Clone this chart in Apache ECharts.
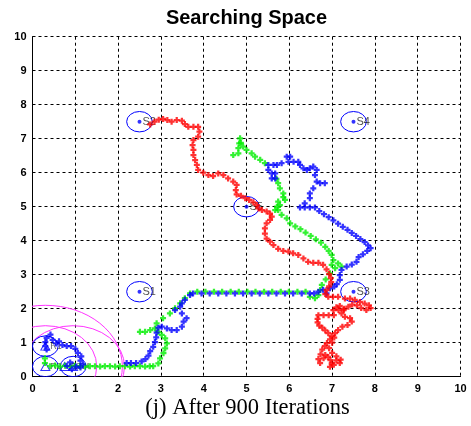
<!DOCTYPE html>
<html><head><meta charset="utf-8">
<script src="https://cdn.jsdelivr.net/npm/echarts@6/dist/echarts.min.js"></script>
<style>html,body{margin:0;padding:0;background:#fff}#c{width:471px;height:426px}</style>
</head><body><div id="c"></div>
<script>
const titleText = 'Searching Space';
const xLabelText = '(j) After 900 Iterations';
const axisTicks = [0,1,2,3,4,5,6,7,8,9,10];

const stations = [['S1',2.5,2.5],['S2',2.5,7.5],['S3',7.5,2.5],['S4',7.5,7.5],['S5',5,5]];
const robots = [['R1',0.3,0.9],['R2',0.3,0.3],['R3',0.75,0.3],['R4',0.95,0.3]];
const robotZones = [[0.3,0.9],[0.3,0.3],[0.95,0.3]];
const smallRadius = 0.3;
const rangeCircles = [[0.3,0.3,1.2],[0.3,0.3,1.8],[0.95,0.3,1.2]];

const redPath = [[2.75,7.42],[2.85,7.5],[2.95,7.56],[3.05,7.58],[3.15,7.55],[3.25,7.5],[3.37,7.55],[3.49,7.53],[3.56,7.43],[3.64,7.35],[3.76,7.35],[3.87,7.35],[3.9,7.21],[3.87,7.06],[3.76,6.96],[3.74,6.81],[3.76,6.67],[3.76,6.52],[3.8,6.37],[3.84,6.23],[3.87,6.08],[3.99,6.0],[4.11,5.93],[4.22,5.9],[4.34,5.98],[4.46,5.93],[4.57,5.83],[4.69,5.74],[4.77,5.64],[4.75,5.49],[4.77,5.36],[4.87,5.32],[4.97,5.25],[5.06,5.2],[5.16,5.13],[5.24,5.05],[5.28,4.95],[5.36,4.9],[5.47,4.86],[5.55,4.8],[5.59,4.71],[5.55,4.61],[5.47,4.51],[5.43,4.36],[5.43,4.21],[5.47,4.06],[5.55,3.97],[5.63,3.87],[5.74,3.76],[5.86,3.7],[5.98,3.68],[6.09,3.63],[6.21,3.58],[6.33,3.48],[6.44,3.38],[6.56,3.35],[6.68,3.35],[6.79,3.29],[6.87,3.16],[6.93,3.02],[6.97,2.9],[6.98,2.78],[6.93,2.66],[6.87,2.55],[6.84,2.43],[6.91,2.35],[7.02,2.35],[7.14,2.35],[7.3,2.3],[7.42,2.3],[7.53,2.26],[7.65,2.2],[7.76,2.15],[7.86,2.1],[7.9,2.02],[7.8,1.96],[7.68,2.02],[7.58,2.1],[7.47,2.12],[7.38,2.06],[7.28,2.0],[7.18,2.08],[7.1,2.04],[7.03,1.96],[7.15,1.96],[7.27,1.96],[7.22,1.86],[7.3,1.76],[7.42,1.72],[7.46,1.62],[7.36,1.52],[7.24,1.47],[7.14,1.37],[7.07,1.28],[6.99,1.2],[6.68,1.81],[6.8,1.81],[6.92,1.81],[7.04,1.81],[6.66,1.7],[6.66,1.6],[6.7,1.5],[6.77,1.44],[6.84,1.36],[6.91,1.28],[6.95,1.1],[6.88,0.99],[6.83,0.9],[6.77,0.8],[6.73,0.66],[6.68,0.52],[6.72,0.4],[6.8,0.54],[6.84,0.64],[6.91,0.58],[6.96,0.49],[6.99,0.39],[6.95,0.29],[7.04,0.35],[7.1,0.48],[7.18,0.4],[7.2,0.5],[7.1,0.6],[7.0,0.7],[6.93,0.84],[7.0,1.0],[7.05,1.15]];

const bluePath = [[0.42,1.24],[0.33,1.14],[0.3,1.02],[0.3,0.9],[0.33,0.8],[0.47,1.08],[0.55,0.98],[0.62,1.04],[0.7,0.93],[0.8,0.9],[0.9,0.9],[1.0,0.82],[1.06,0.7],[1.14,0.6],[1.12,0.47],[1.18,0.36],[1.12,0.27],[0.88,0.42],[0.8,0.32],[0.92,0.22],[1.02,0.3],[2.2,0.4],[2.3,0.4],[2.42,0.4],[2.55,0.45],[2.64,0.52],[2.71,0.62],[2.75,0.75],[2.82,0.88],[2.86,1.02],[2.89,1.16],[2.9,1.3],[2.94,1.44],[3.02,1.47],[3.14,1.42],[3.25,1.37],[3.37,1.37],[3.49,1.47],[3.53,1.62],[3.6,1.72],[3.49,1.86],[3.33,1.96],[3.45,2.06],[3.49,2.16],[3.56,2.26],[3.68,2.4],[3.75,2.45],[3.95,2.45],[4.14,2.45],[4.34,2.45],[4.53,2.45],[4.73,2.45],[4.92,2.45],[5.12,2.45],[5.31,2.45],[5.51,2.45],[5.7,2.45],[5.9,2.45],[6.09,2.45],[6.29,2.45],[6.48,2.45],[6.58,2.45],[6.68,2.5],[6.79,2.56],[6.87,2.45],[6.95,2.6],[7.05,2.65],[7.11,2.72],[7.18,2.85],[7.18,2.99],[7.22,3.14],[7.34,3.24],[7.46,3.3],[7.57,3.38],[7.62,3.52],[7.72,3.6],[7.82,3.7],[7.9,3.78],[7.84,3.86],[7.76,3.96],[7.66,4.05],[7.56,4.14],[7.46,4.23],[7.36,4.32],[7.25,4.41],[7.14,4.5],[7.03,4.6],[6.92,4.69],[6.81,4.78],[6.7,4.87],[6.6,4.98],[6.48,4.98],[6.36,4.98],[6.25,4.98],[6.36,5.1],[6.48,5.25],[6.48,5.39],[6.56,5.54],[6.64,5.74],[6.72,5.69],[6.83,5.69],[6.6,5.93],[6.64,6.08],[6.56,6.18],[6.48,6.13],[6.41,6.08],[6.33,6.13],[6.25,6.23],[6.21,6.32],[6.1,6.32],[5.98,6.32],[6.02,6.47],[5.94,6.47],[5.82,6.28],[5.71,6.23],[5.63,6.23],[5.51,6.23],[5.51,6.08],[5.59,5.98],[5.67,5.98],[5.67,5.83],[5.59,5.83]];

const greenPath = [[0.29,0.54],[0.29,0.4],[0.41,0.31],[0.53,0.33],[0.64,0.3],[0.76,0.32],[0.88,0.3],[0.99,0.32],[1.11,0.31],[1.23,0.3],[1.34,0.31],[1.46,0.31],[1.58,0.3],[1.69,0.31],[1.81,0.31],[1.93,0.3],[2.04,0.31],[2.16,0.31],[2.28,0.3],[2.39,0.31],[2.51,0.31],[2.63,0.3],[2.74,0.31],[2.82,0.31],[2.94,0.39],[2.98,0.54],[3.06,0.69],[3.1,0.83],[3.14,0.98],[3.1,1.13],[3.02,1.23],[2.94,1.32],[2.86,1.42],[2.75,1.37],[2.63,1.32],[2.51,1.32],[2.9,1.57],[3.05,1.72],[3.21,1.86],[3.33,2.01],[3.45,2.16],[3.56,2.31],[3.68,2.45],[3.85,2.5],[4.04,2.5],[4.24,2.5],[4.43,2.5],[4.63,2.5],[4.82,2.5],[5.02,2.5],[5.21,2.5],[5.41,2.5],[5.6,2.5],[5.8,2.5],[5.99,2.5],[6.19,2.5],[6.38,2.5],[6.48,2.35],[6.6,2.31],[6.68,2.4],[6.72,2.55],[6.76,2.7],[6.85,2.86],[6.95,3.04],[7.07,3.19],[7.14,3.33],[7.22,3.24],[6.99,3.29],[7.03,3.43],[6.99,3.58],[6.92,3.7],[6.84,3.82],[6.74,3.94],[6.62,4.04],[6.5,4.14],[6.38,4.24],[6.26,4.34],[6.14,4.42],[6.02,4.51],[5.94,4.66],[5.82,4.76],[5.74,4.9],[5.67,4.9],[5.71,5.0],[5.78,5.05],[5.74,5.15],[5.86,5.28],[5.9,5.2],[5.86,5.39],[5.78,5.54],[5.74,5.69],[5.7,5.82],[5.43,6.28],[5.32,6.38],[5.2,6.47],[5.12,6.57],[5.0,6.67],[4.92,6.77],[4.87,6.88],[4.85,7.01],[4.83,6.86],[4.81,6.72],[4.81,6.57],[4.69,6.52]];

const plusSymbol = 'path://M2.5,0H5.5V2.5H8V5.5H5.5V8H2.5V5.5H0V2.5H2.5Z';

function ellipseItem(color, lw) {
  return function (params, api) {
    const c = api.coord([api.value(0), api.value(1)]);
    const s = api.size([api.value(2), api.value(2)]);
    const rx = s[0], ry = s[1];
    return {
      type: 'path',
      shape: {
        pathData: 'M' + (c[0] - rx) + ' ' + c[1] + ' A' + rx + ' ' + ry + ' 0 1 0 ' + (c[0] + rx) + ' ' + c[1] +
                  ' A' + rx + ' ' + ry + ' 0 1 0 ' + (c[0] - rx) + ' ' + c[1] + ' Z'
      },
      style: { fill: 'none', stroke: color, lineWidth: lw }
    };
  };
}

const chart = echarts.init(document.getElementById('c'), null, { renderer: 'canvas' });
const axisCommon = {
  type: 'value', min: axisTicks[0], max: axisTicks[axisTicks.length - 1], interval: 1,
  axisLine: { show: true, lineStyle: { color: '#000', width: 1 } },
  axisTick: { show: false },
  splitLine: { show: true, lineStyle: { color: '#000', type: [3, 3], width: 1 } },
  axisLabel: { color: '#000', fontFamily: 'Liberation Sans, Arial, sans-serif', fontWeight: 'bold', fontSize: 11 }
};
chart.setOption({
  animation: false,
  backgroundColor: '#fff',
  grid: { left: 32.5, right: 10.5, top: 36.7, bottom: 49.3 },
  xAxis: Object.assign({}, axisCommon, { axisLabel: Object.assign({}, axisCommon.axisLabel, { margin: 7 }) }),
  yAxis: Object.assign({}, axisCommon, { axisLabel: Object.assign({}, axisCommon.axisLabel, { margin: 6 }) }),
  graphic: [
    { type: 'text', style: { text: titleText, x: 246.5, y: 18, textAlign: 'center', textVerticalAlign: 'middle', font: 'bold 20px "Liberation Sans", Arial, sans-serif', fill: '#000' } },
    { type: 'text', style: { text: xLabelText, x: 247.5, y: 408, textAlign: 'center', textVerticalAlign: 'middle', font: '22.5px "Liberation Serif", "Times New Roman", serif', fill: '#000' } }
  ],
  series: [
    { type: 'custom', name: 'range', clip: true, z: 1, renderItem: ellipseItem('#ff33ff', 1),
      data: rangeCircles },
    { type: 'custom', name: 'zones', clip: true, z: 1, renderItem: ellipseItem('#0000ff', 1),
      data: stations.map(s => [s[1], s[2], smallRadius]).concat(robotZones.map(r => [r[0], r[1], smallRadius])) },
    { type: 'scatter', name: 'stations', z: 2, symbol: 'circle', symbolSize: 4,
      itemStyle: { color: '#0000ff' },
      label: { show: true, position: 'right', distance: 1, formatter: p => p.data[2], color: '#222',
        fontFamily: 'Liberation Sans, Arial, sans-serif', fontSize: 11 },
      data: stations.map(s => [s[1], s[2], s[0]]) },
    { type: 'scatter', name: 'robots', z: 2, symbol: 'triangle', symbolSize: [9, 8],
      itemStyle: { color: 'rgba(0,0,0,0)', borderColor: '#0000ff', borderWidth: 1 },
      label: { show: true, position: 'right', distance: 0, formatter: p => p.data[2], color: '#444',
        fontFamily: 'Liberation Sans, Arial, sans-serif', fontSize: 9 },
      data: robots.map(r => [r[1], r[2], r[0]]) },
    { type: 'scatter', name: 'green', z: 3, symbol: plusSymbol, symbolSize: 6,
      itemStyle: { color: '#00ee00' }, data: greenPath },
    { type: 'scatter', name: 'blue', z: 4, symbol: plusSymbol, symbolSize: 6,
      itemStyle: { color: '#0000ff' }, data: bluePath },
    { type: 'scatter', name: 'red', z: 5, symbol: plusSymbol, symbolSize: 6,
      itemStyle: { color: '#ff0000' }, data: redPath }
  ]
});
</script></body></html>
